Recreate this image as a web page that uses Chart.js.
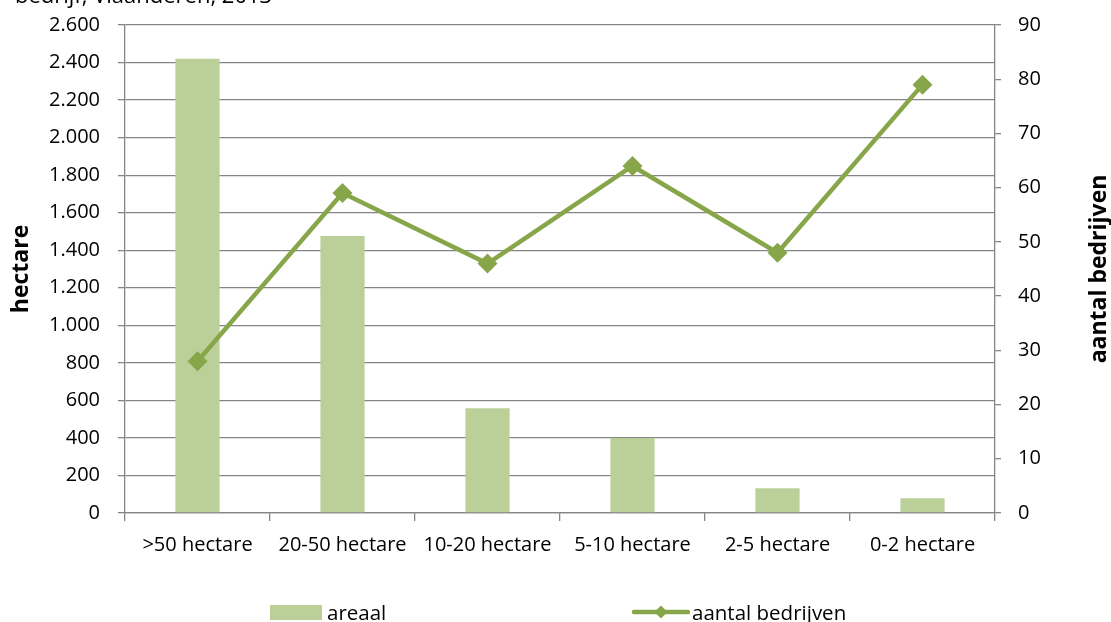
<!DOCTYPE html>
<html>
<head>
<meta charset="utf-8">
<script src="https://cdn.jsdelivr.net/npm/chart.js@4/dist/chart.umd.min.js"></script>
<style>
    body { margin: 0; background: #fff; overflow: hidden; font-family: 'Open Sans', sans-serif; }
    #wrap { position: relative; width: 1111px; height: 622px; }
    #topTitle { position: absolute; left: 15px; top: -16px; font-size: 22px; line-height: 20px; color: #000; white-space: nowrap; }
    .legend { position: absolute; top: 600px; font-size: 20.5px; line-height: 24px; color: #000; display: flex; align-items: center; }
    .swatch { display: inline-block; width: 52px; height: 15px; background: #bbcf98; margin-right: 5px; }
</style>
</head>
<body>
<div id="wrap">
    <canvas id="farmChart"></canvas>
    <div id="topTitle">bedrijf, Vlaanderen, 2013</div>
    <div class="legend" style="left:270px"><span class="swatch"></span>areaal</div>
    <div class="legend" style="left:632px">
        <svg width="58" height="16" style="margin-right:2px">
            <line x1="2" y1="8" x2="56" y2="8" stroke="#87a64a" stroke-width="4.5" stroke-linecap="round"/>
            <polygon points="29,1.5 35.5,8 29,14.5 22.5,8" fill="#87a64a"/>
        </svg>aantal bedrijven
    </div>
</div>
<script>
// ==================== DATA ====================
const categories = ['>50 hectare', '20-50 hectare', '10-20 hectare', '5-10 hectare', '2-5 hectare', '0-2 hectare'];
const areaal = [2420, 1476, 558, 400, 132, 78];          // hectare (left axis)
const aantalBedrijven = [28, 59, 46, 64, 48, 79];        // count (right axis)

const GRID = '#858585';
const BAR = '#bbcf98';
const LINE = '#87a64a';
const FONT = "'Open Sans', sans-serif";

// thousands separator with a dot, like 2.600
const fmt = v => String(v).replace(/\B(?=(\d{3})+(?!\d))/g, '.');

// fixed axis sizes so the plot area sits where the original one does
const fixSize = (w, h) => s => {
    if (w) s.width = w;
    if (h) s.height = h;
    s.paddingTop = 0;
    s.paddingBottom = 0;
    s.paddingLeft = 0;
    s.paddingRight = 0;
};

// right axis title reads bottom-to-top, Chart.js would rotate it the other way
const rightTitle = {
    id: 'rightTitle',
    afterDraw(chart) {
        const { ctx, chartArea } = chart;
        ctx.save();
        ctx.translate(1099, (chartArea.top + chartArea.bottom) / 2);
        ctx.rotate(-Math.PI / 2);
        ctx.font = `bold 23px ${FONT}`;
        ctx.fillStyle = '#000';
        ctx.textAlign = 'center';
        ctx.textBaseline = 'middle';
        ctx.fillText('aantal bedrijven', 0, 0);
        ctx.restore();
    }
};

const ctx = document.getElementById('farmChart').getContext('2d');
new Chart(ctx, {
    data: {
        labels: categories,
        datasets: [
            {
                type: 'line',
                label: 'aantal bedrijven',
                data: aantalBedrijven,
                yAxisID: 'y1',
                borderColor: LINE,
                backgroundColor: LINE,
                borderWidth: 4.5,
                pointStyle: 'rectRot',
                pointRadius: 10,
                pointBorderWidth: 0,
                tension: 0,
                order: 0
            },
            {
                type: 'bar',
                label: 'areaal',
                data: areaal,
                yAxisID: 'y',
                backgroundColor: BAR,
                barPercentage: 0.305,
                categoryPercentage: 1,
                order: 1
            }
        ]
    },
    options: {
        responsive: true,
        maintainAspectRatio: false,
        animation: false,
        layout: { padding: { top: 25, left: 0, right: 0, bottom: 0 } },
        plugins: {
            legend: { display: false },
            tooltip: { enabled: false }
        },
        scales: {
            x: {
                offset: true,
                grid: { offset: true, drawOnChartArea: false, color: GRID, lineWidth: 1.3, tickLength: 8 },
                border: { color: GRID, width: 1.3 },
                ticks: { color: '#000', font: { family: FONT, size: 20 }, padding: 12, maxRotation: 0 },
                afterFit: fixSize(0, 109)
            },
            y: {
                position: 'left',
                min: 0,
                max: 2600,
                ticks: { stepSize: 200, color: '#000', font: { family: FONT, size: 20 }, padding: 18, callback: v => fmt(v) },
                grid: { color: GRID, lineWidth: 1.3, tickLength: 7 },
                border: { color: GRID, width: 1.3 },
                title: { display: true, text: 'hectare', color: '#000', font: { family: FONT, size: 23, weight: 'bold' }, padding: { top: 8, bottom: 0 } },
                afterFit: fixSize(125, 0)
            },
            y1: {
                position: 'right',
                min: 0,
                max: 90,
                ticks: { stepSize: 10, color: '#000', font: { family: FONT, size: 20 }, padding: 17 },
                grid: { drawOnChartArea: false, color: GRID, lineWidth: 1.3, tickLength: 6 },
                border: { color: GRID, width: 1.3 },
                afterFit: fixSize(116, 0)
            }
        }
    },
    plugins: [rightTitle]
});
</script>
</body>
</html>
